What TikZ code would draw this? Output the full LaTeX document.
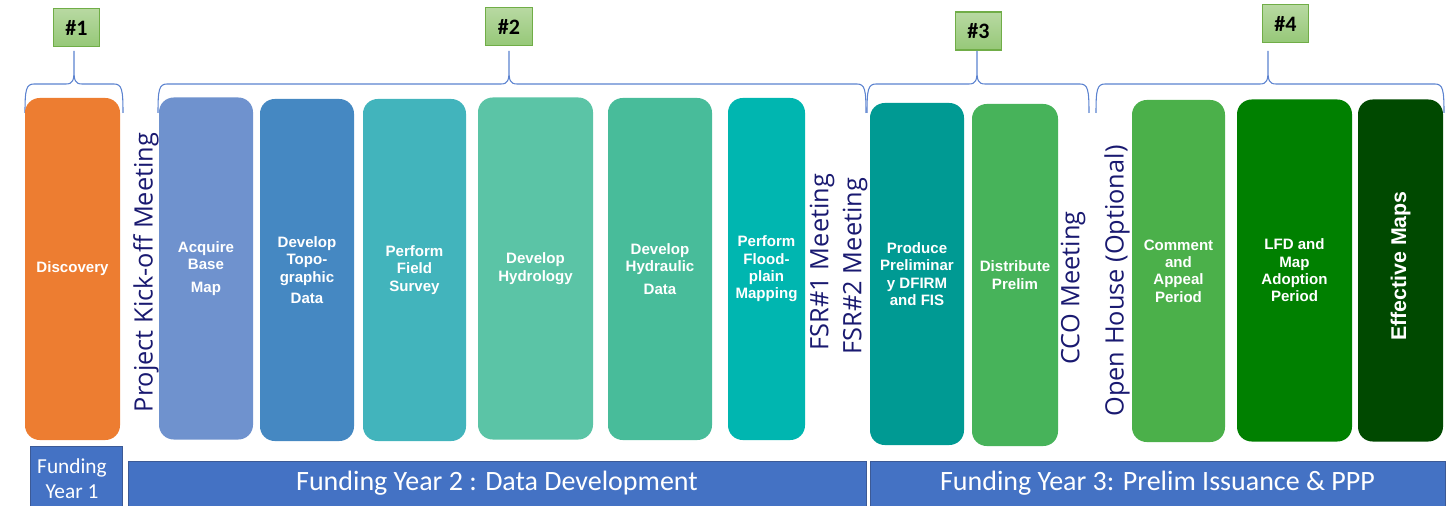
\documentclass[tikz,border=0pt]{standalone}
\usepackage{fontspec}
\setmainfont{Liberation Sans}
\newfontfamily\calibrifont{Carlito}
\newfontfamily\segoefont{Open Sans}
\usepackage{tikz}
\usetikzlibrary{positioning}

\definecolor{discoveryorange}{RGB}{237,125,49}
\definecolor{acquireblue}{RGB}{111,146,206}
\definecolor{topoblue}{RGB}{69,136,194}
\definecolor{fieldteal}{RGB}{66,180,188}
\definecolor{hydrogreen}{RGB}{91,196,166}
\definecolor{hydraulicgreen}{RGB}{72,188,154}
\definecolor{floodteal}{RGB}{0,182,176}
\definecolor{producteal}{RGB}{0,154,147}
\definecolor{distributegreen}{RGB}{71,179,90}
\definecolor{commentgreen}{RGB}{75,176,74}
\definecolor{lfdgreen}{RGB}{0,128,0}
\definecolor{effectivegreen}{RGB}{0,73,0}
\definecolor{meetingblue}{RGB}{25,25,112}
\definecolor{fundblue}{RGB}{68,114,196}
\definecolor{fundedge}{RGB}{60,90,150}
\definecolor{numtop}{RGB}{184,217,162}
\definecolor{numbottom}{RGB}{150,200,120}
\definecolor{numedge}{RGB}{112,173,71}
\definecolor{bracecolor}{RGB}{91,130,207}

% left end, tip, right end of a phase brace
\newcommand{\phasebrace}[3]{%
    \draw[phase brace] (#1,113) .. controls (#1,90) and (#1+1,84) .. (#1+9,84)
        -- (#2-8,84) .. controls (#2-1,84) and (#2,80) .. (#2,70) -- (#2,51)
        (#2,70) .. controls (#2,80) and (#2+1,84) .. (#2+8,84)
        -- (#3-9,84) .. controls (#3-1,84) and (#3,90) .. (#3,113);}

\begin{document}
\begin{tikzpicture}
    [
        x=0.75pt, y=-0.75pt,
        stage/.style={rectangle, rounded corners=11pt, text=white, align=center, minimum height=256.5pt, inner sep=2pt, font=\fontsize{11.3}{13}\selectfont\bfseries},
        meeting/.style={rotate=90, text=meetingblue, inner sep=0pt, font=\segoefont\fontsize{19}{22}\selectfont},
        funding/.style={rectangle, fill=fundblue, draw=fundedge, line width=0.6pt, text=white, align=center, font=\calibrifont\fontsize{21}{24}\selectfont},
        phasenum/.style={rectangle, draw=numedge, line width=0.8pt, top color=numtop, bottom color=numbottom, minimum width=35pt, minimum height=28.5pt, font=\calibrifont\bfseries\fontsize{16.5}{18}\selectfont},
        phase brace/.style={draw=bracecolor, line width=0.8pt},
    ]
    \useasboundingbox (0,0) rectangle (1454,506);

    % phase numbers and braces
    \node[phasenum] (num1) at (76.5,27.5) {\#1};
    \node[phasenum] (num2) at (509,26.5) {\#2};
    \node[phasenum] (num3) at (978.5,31) {\#3};
    \node[phasenum] (num4) at (1285.5,23.5) {\#4};
    \phasebrace{25}{74}{123}
    \phasebrace{158}{509}{866}
    \phasebrace{867}{977}{1089}
    \phasebrace{1096}{1268}{1444}

    % stages
    \node[stage, fill=discoveryorange, minimum width=71.25pt] (discovery) at (72.5,269) {Discovery};
    \node[stage, fill=acquireblue, minimum width=70.5pt] (acquire) at (206,268.5) {Acquire\\Base\\[4pt]Map};
    \node[stage, fill=topoblue, minimum width=70.5pt] (topo) at (307,270) {Develop\\Topo-\\graphic\\[3pt]Data};
    \node[stage, fill=fieldteal, minimum width=77.25pt] (field) at (414.5,270) {Perform\\Field\\Survey};
    \node[stage, fill=hydrogreen, minimum width=86.25pt] (hydrology) at (535.5,268.5) {Develop\\Hydrology};
    \node[stage, fill=hydraulicgreen, minimum width=78pt] (hydraulic) at (660,269) {Develop\\Hydraulic\\[4pt]Data};
    \node[stage, fill=floodteal, minimum width=57.75pt] (flood) at (766.5,269) {Perform\\Flood-\\plain\\Mapping};
    \node[stage, fill=producteal, minimum width=70.5pt] (produce) at (917,274) {Produce\\Preliminar\\y DFIRM\\and FIS};
    \node[stage, fill=distributegreen, minimum width=64.5pt] (distribute) at (1015,275) {Distribute\\Prelim};
    \node[stage, fill=commentgreen, minimum width=69.75pt] (comment) at (1178.5,271) {Comment\\and\\Appeal\\Period};
    \node[stage, fill=lfdgreen, minimum width=86.25pt] (lfd) at (1294.5,270.5) {LFD and\\Map\\Adoption\\Period};
    \node[stage, fill=effectivegreen, minimum width=63.75pt] (effective) at (1400.5,270.5) {};
    \node[rotate=90, text=white, font=\fontsize{16}{18}\selectfont\bfseries] (effective label) at (1400.5,266) {Effective Maps};

    % meetings
    \node[meeting] (kickoff) at (146,272.5) {Project Kick-off Meeting};
    \node[meeting] (fsr1) at (822,262) {FSR\#1 Meeting};
    \node[meeting] (fsr2) at (855,266) {FSR\#2 Meeting};
    \node[meeting] (cco) at (1073,288) {CCO Meeting};
    \node[meeting] (openhouse) at (1117,281) {Open House (Optional)};

    % funding years
    \node[funding, minimum width=69pt, minimum height=45pt, font=\calibrifont\fontsize{16}{18.75}\selectfont] (year1) at (76,476) {};
    \node[text=white, align=center, font=\calibrifont\fontsize{16}{18.75}\selectfont] (year1 label) at (72,479) {Funding\\Year 1};
    \node[funding, minimum width=553.5pt, minimum height=33.75pt] (year2) at (497,483.5) {Funding Year 2 : Data Development};
    \node[funding, minimum width=431.25pt, minimum height=33.75pt] (year3) at (1157.5,483.5) {Funding Year 3: Prelim Issuance \& PPP};
\end{tikzpicture}
\end{document}
